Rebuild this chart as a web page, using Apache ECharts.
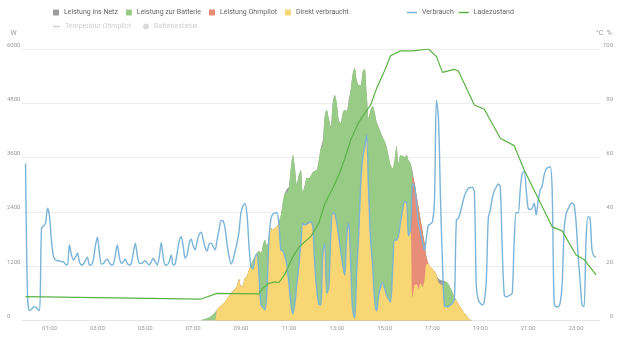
<!DOCTYPE html>
<html><head><meta charset="utf-8">
<script src="https://cdn.jsdelivr.net/npm/echarts@6/dist/echarts.min.js"></script>
<style>html,body{margin:0;padding:0;background:#fff}#c{width:620px;height:337px}</style>
</head><body><div id="c"></div>
<script>
const timeLabels = ['01:00','03:00','05:00','07:00','09:00','11:00','13:00','15:00','17:00','19:00','21:00','23:00'];
const leftTicks = [0,1200,2400,3600,4800,6000];
const rightTicks = [0,20,40,60,80,100];

const verbrauchTimes = [
'00:00','00:05','00:10','00:15','00:20','00:25','00:30','00:35','00:40','00:45','00:50','00:55',
'01:00','01:05','01:10','01:15','01:20','01:25','01:30','01:35','01:40','01:45','01:50','01:55',
'02:00','02:05','02:10','02:15','02:20','02:25','02:30','02:35','02:40','02:45','02:50','02:55',
'03:00','03:05','03:10','03:15','03:20','03:25','03:30','03:35','03:40','03:45','03:50','03:55',
'04:00','04:05','04:10','04:15','04:20','04:25','04:30','04:35','04:40','04:45','04:50','04:55',
'05:00','05:05','05:10','05:15','05:20','05:25','05:30','05:35','05:40','05:45','05:50','05:55',
'06:00','06:05','06:10','06:15','06:20','06:25','06:30','06:35','06:40','06:45','06:50','06:55',
'07:00','07:05','07:10','07:15','07:20','07:25','07:30','07:35','07:40','07:45','07:50','07:55',
'08:00','08:05','08:10','08:15','08:20','08:25','08:30','08:35','08:40','08:45','08:50','08:55',
'09:00','09:05','09:10','09:15','09:20','09:25','09:30','09:35','09:40','09:45','09:50','09:55',
'10:00','10:05','10:10','10:15','10:20','10:25','10:30','10:35','10:40','10:45','10:50','10:55',
'11:00','11:05','11:10','11:15','11:20','11:25','11:30','11:35','11:40','11:45','11:50','11:55',
'12:00','12:05','12:10','12:15','12:20','12:25','12:30','12:35','12:40','12:45','12:50','12:55',
'13:00','13:05','13:10','13:15','13:20','13:25','13:30','13:35','13:40','13:45','13:50','13:55',
'14:00','14:05','14:10','14:15','14:20','14:25','14:30','14:35','14:40','14:45','14:50','14:55',
'15:00','15:05','15:10','15:15','15:20','15:25','15:30','15:35','15:40','15:45','15:50','15:55',
'16:00','16:05','16:10','16:15','16:20','16:25','16:30','16:35','16:40','16:45','16:50','16:55',
'17:00','17:05','17:10','17:15','17:20','17:25','17:30','17:35','17:40','17:45','17:50','17:55',
'18:00','18:05','18:10','18:15','18:20','18:25','18:30','18:35','18:40','18:45','18:50','18:55',
'19:00','19:05','19:10','19:15','19:20','19:25','19:30','19:35','19:40','19:45','19:50','19:55',
'20:00','20:05','20:10','20:15','20:20','20:25','20:30','20:35','20:40','20:45','20:50','20:55',
'21:00','21:05','21:10','21:15','21:20','21:25','21:30','21:35','21:40','21:45','21:50','21:55',
'22:00','22:05','22:10','22:15','22:20','22:25','22:30','22:35','22:40','22:45','22:50','22:55',
'23:00','23:05','23:10','23:15','23:20','23:25','23:30','23:35','23:40','23:45','23:50'];

const verbrauch = [
3470,500,220,250,300,300,250,220,2050,2090,2150,2480,
2300,1750,1410,1340,1320,1320,1300,1300,1240,1230,1669,1450,
1337,1400,1485,1300,1227,1250,1330,1397,1227,1230,1350,1650,
1839,1500,1249,1260,1320,1352,1280,1227,1240,1450,1669,1400,
1264,1300,1352,1260,1227,1260,1500,1706,1450,1264,1260,1290,
1322,1270,1227,1300,1375,1300,1227,1400,1719,1400,1227,1230,
1300,1448,1227,1250,1500,1750,1852,1650,1375,1450,1700,1795,
1650,1560,1750,1900,1950,1800,1620,1535,1690,1710,1635,1560,
1780,2007,2210,2200,2043,1690,1425,1250,1337,1525,1713,1962,
2387,2530,2585,2350,1670,1180,1140,1400,1470,1006,343,290,
235,674,1779,2243,2354,2376,2382,2148,1558,1535,1425,1215,
829,387,144,387,807,1204,1713,2148,2111,2133,2155,2177,
2088,1227,674,365,343,1500,1700,601,718,1890,2369,2354,
2155,1845,1536,1227,1006,1890,2155,1227,232,55,1116,1890,
2973,3585,3812,4100,2818,1779,1227,453,210,541,740,829,
718,564,475,409,1116,1779,1779,1890,2177,2442,2619,2619,
1867,2022,3030,2957,2575,2155,1934,1735,1558,1845,2110,2133,
2177,2620,4870,4470,2730,1293,320,305,309,343,376,475,
2221,2259,2398,2575,2751,2851,2922,2935,2944,2840,750,453,
380,343,431,895,2265,2442,2707,2862,2950,3017,2950,1558,
564,526,541,564,601,1779,2387,2376,2884,3253,3288,2884,
2475,2453,2486,2590,2332,2641,2884,2972,3215,3348,3381,3399,
2900,387,305,305,387,785,2000,2354,2464,2553,2597,2553,
2177,1448,895,343,305,1779,2294,2265,1558,1425,1410];

const pvTimes = [
'07:20','07:25','07:30','07:35','07:40','07:45','07:50','07:55',
'08:00','08:05','08:10','08:15','08:20','08:25','08:30','08:35','08:40','08:45','08:50','08:55',
'09:00','09:05','09:10','09:15','09:20','09:25','09:30','09:35','09:40','09:45','09:50','09:55',
'10:00','10:05','10:10','10:15','10:20','10:25','10:30','10:35','10:40','10:45','10:50','10:55',
'11:00','11:05','11:10','11:15','11:20','11:25','11:30','11:35','11:40','11:45','11:50','11:55',
'12:00','12:05','12:10','12:15','12:20','12:25','12:30','12:35','12:40','12:45','12:50','12:55',
'13:00','13:05','13:10','13:15','13:20','13:25','13:30','13:35','13:40','13:45','13:50','13:55',
'14:00','14:05','14:10','14:15','14:20','14:25','14:30','14:35','14:40','14:45','14:50','14:55',
'15:00','15:05','15:10','15:15','15:20','15:25','15:30','15:35','15:40','15:45','15:50','15:55',
'16:00','16:05','16:10','16:15','16:20','16:25','16:30','16:35','16:40','16:45','16:50','16:55',
'17:00','17:05','17:10','17:15','17:20','17:25','17:30','17:35','17:40','17:45','17:50','17:55',
'18:00','18:05','18:10','18:15','18:20','18:25','18:30','18:35','18:40','18:45'];

const direktVerbraucht = [
0,0,0,0,0,0,0,0,
240,290,330,370,415,475,535,590,650,695,760,910,
750,785,940,985,1116,1180,1140,1400,1470,1006,343,290,
235,674,1779,2044,2000,2044,2073,2148,1558,1535,1425,1215,
829,387,144,387,807,1204,1713,2148,2111,2133,2155,2177,
2088,1227,674,365,343,1500,1700,601,718,1890,2369,2354,
2155,1845,1536,1227,1006,1890,2155,1227,232,55,1116,1890,
2973,3585,3812,4100,2818,1779,1227,453,210,541,740,829,
718,564,475,409,1116,1779,1779,1890,2177,2442,2619,2619,
1867,2022,520,774,807,696,829,740,895,1249,1249,1182,
1138,1083,1006,838,795,784,320,305,309,343,376,475,
442,365,298,232,155,110,55,10,0,0];

const leistungOhmpilot = [
0,0,0,0,0,0,0,0,
0,0,0,0,0,0,0,0,0,0,0,0,
0,0,0,0,0,0,0,0,0,0,0,0,
0,0,0,0,0,0,0,0,0,0,0,0,
0,0,0,0,0,0,0,0,0,0,0,0,
0,0,0,0,0,0,0,0,0,0,0,0,
0,0,0,0,0,0,0,0,0,0,0,0,
0,0,0,0,0,0,0,0,0,0,0,0,
0,0,0,0,0,0,0,0,0,0,0,0,
0,0,2680,2276,1967,1812,1414,1238,818,154,0,0,
0,0,0,0,0,0,0,0,0,0,0,0,
0,0,0,0,0,0,0,0,0,0];

const leistungBatterie = [
0,20,35,50,65,95,130,180,
0,0,0,0,0,0,0,0,0,0,0,0,
0,0,0,0,0,35,197,0,20,529,1147,1379,
1544,972,66,0,0,0,0,29,773,1084,1393,1611,
2121,2983,3514,3005,2203,2011,1613,692,884,1017,995,1018,
1195,2079,2652,3175,3469,2370,2820,4051,3757,2393,2431,2630,
2652,2585,2829,3359,3646,2740,2638,3873,5218,5525,4199,3315,
2227,1915,1748,950,1657,2873,3513,4155,4177,3735,3426,3227,
3250,3271,3161,3028,2248,1761,2076,1590,1481,1194,995,1039,
1673,1452,0,0,0,0,0,0,0,0,0,0,
0,0,0,0,0,0,513,546,498,375,254,44,
0,0,0,0,0,0,0,0,0,0];

const leistungNetz = [
0,0,0,0,0,0,0,0,
0,0,0,0,0,0,0,0,0,0,0,0,
0,0,0,0,0,0,0,0,0,0,0,0,
0,0,0,0,0,0,0,0,0,0,0,80,
0,0,0,0,0,0,0,0,0,0,0,0,
0,0,0,0,0,120,0,0,0,0,0,0,
0,0,0,0,0,0,80,0,0,0,0,0,
0,0,0,0,0,0,0,0,0,0,0,0,
0,0,0,0,0,0,0,0,0,0,0,0,
0,0,100,0,0,0,0,0,0,0,0,0,
0,0,0,90,100,100,40,0,0,0,0,0,
0,0,0,0,0,0,0,0,0,0];

const socTimes = ['00:00','07:20','08:00','09:45','09:55','10:10','10:25','10:35','10:50','11:10','11:25','11:40','11:55','12:15','12:30','12:50','13:05','13:20','13:35','13:55','14:10','14:25','14:40','15:00','15:15','15:40','16:10','16:15','16:50','17:10','17:25','17:55','18:05','18:45','19:10','19:50','20:25','20:50','22:00','22:25','23:00','23:20','23:50'];
const ladezustand = [8.8,7.9,10.0,9.8,12.0,13.7,14.2,14.0,17.0,23.5,27.0,29.0,30.9,35.8,43.0,48.7,53.5,59.5,66.5,73.0,76.3,79.4,85.5,92.0,97.5,99.3,99.3,100,100,97.2,91.4,92.5,91.9,79.4,77.8,67.1,64.4,55.4,34.5,33.0,24.1,22.5,16.8];

function toH(t){ const p = t.split(':'); return +p[0] + (+p[1]) / 60; }
function pairs(ts, vs){ return ts.map((t, i) => [toH(t), vs[i]]); }

// Stacked (cumulative) tops of the PV areas, built from the per-series arrays above.
const stackOrder = [direktVerbraucht, leistungOhmpilot, leistungBatterie, leistungNetz];
const stackTops = [];
stackOrder.forEach((arr, s) => {
  stackTops.push(arr.map((v, i) => v + (s > 0 ? stackTops[s - 1][i] : 0)));
});

const C = {
  netz: '#9e9e9e', batt: '#98cb85', ohm: '#e88d77', direkt: '#f8d673',
  verbrauch: '#7ab4d8', soc: '#5bb346'
};
const FONT = 'Roboto, sans-serif';
const chart = echarts.init(document.getElementById('c'), null, {renderer: 'canvas'});

function area(name, data, color){
  return { name, type: 'line', data, symbol: 'none', smooth: 0.3,
    lineStyle: { width: 0 }, itemStyle: { color }, areaStyle: { color, opacity: 1 }, z: 2, silent: true };
}

const labelH = timeLabels.map(toH);
const legendText = { fontSize: 7, color: '#666', fontFamily: FONT, width: 70 };
chart.setOption({
  animation: false,
  backgroundColor: '#fff',
  textStyle: { fontFamily: FONT },
  grid: { left: 22, right: 20, top: 49, bottom: 16.5 },
  legend: [
    { data: [{name:'Leistung ins Netz', icon:'rect'}, {name:'Leistung zur Batterie', icon:'rect'}, {name:'Leistung Ohmpilot', icon:'rect'}, {name:'Direkt verbraucht', icon:'rect'}],
      left: 53, top: 9, padding: 0, itemWidth: 6, itemHeight: 6, itemGap: 8, textStyle: legendText },
    { data: [{name:'Verbrauch', icon:'rect'}, {name:'Ladezustand', icon:'rect'}],
      left: 407, top: 9, padding: 0, itemWidth: 10, itemHeight: 1.5, itemGap: 5, textStyle: legendText },
    { data: [{name:'Temperatur Ohmpilot', icon:'rect'}], selected: {'Temperatur Ohmpilot': false},
      left: 53, top: 23, padding: 0, itemWidth: 7, itemHeight: 1.5, itemGap: 7, textStyle: legendText, inactiveColor: '#d0d0d0' },
    { data: [{name:'Batteriestatus', icon:'circle'}], selected: {'Batteriestatus': false},
      left: 143, top: 23, padding: 0, itemWidth: 6, itemHeight: 6, itemGap: 7, textStyle: legendText, inactiveColor: '#d0d0d0' }
  ],
  xAxis: {
    type: 'value', min: -0.15, max: 24,
    axisLine: { show: true, lineStyle: { color: '#e6e6e6' } },
    axisTick: { show: false }, splitLine: { show: false },
    axisLabel: { customValues: labelH, color: '#9a9a9a', fontSize: 6, margin: 5,
      formatter: v => { const i = labelH.findIndex(h => Math.abs(h - v) < 1e-6); return i >= 0 ? timeLabels[i] : ''; } }
  },
  yAxis: [
    { type: 'value', min: 0, max: 6000, interval: 1200, name: 'W', nameGap: 12,
      nameTextStyle: { color: '#9a9a9a', fontSize: 7, align: 'right', padding: [0, 9, 0, 0] },
      axisLine: { show: false }, axisTick: { show: false },
      splitLine: { lineStyle: { color: '#eeeeee', width: 1 } },
      axisLabel: { align: 'left', margin: 15, verticalAlign: 'bottom', color: '#9a9a9a', fontSize: 6, padding: [0,0,1,0],
        formatter: v => leftTicks.includes(v) ? String(v) : '' } },
    { type: 'value', min: 0, max: 100, interval: 20, name: '°C  %', nameGap: 12, position: 'right',
      nameTextStyle: { color: '#9a9a9a', fontSize: 7, align: 'center', padding: [0, 0, 0, 8] },
      axisLine: { show: false }, axisTick: { show: false }, splitLine: { show: false },
      axisLabel: { align: 'right', margin: 13, verticalAlign: 'bottom', color: '#9a9a9a', fontSize: 6, padding: [0,0,1,0],
        formatter: v => rightTicks.includes(v) ? String(v) : '' } }
  ],
  series: [
    area('Leistung ins Netz', pairs(pvTimes, stackTops[3]), C.netz),
    area('Leistung zur Batterie', pairs(pvTimes, stackTops[2]), C.batt),
    area('Leistung Ohmpilot', pairs(pvTimes, stackTops[1]), C.ohm),
    area('Direkt verbraucht', pairs(pvTimes, stackTops[0]), C.direkt),
    { name: 'Verbrauch', type: 'line', data: pairs(verbrauchTimes, verbrauch), symbol: 'none', smooth: 0.3,
      lineStyle: { width: 1.4, color: C.verbrauch }, itemStyle: { color: C.verbrauch }, z: 5, silent: true },
    { name: 'Ladezustand', type: 'line', yAxisIndex: 1, data: pairs(socTimes, ladezustand), symbol: 'none',
      lineStyle: { width: 1.2, color: C.soc }, itemStyle: { color: C.soc }, z: 6, silent: true },
    { name: 'Temperatur Ohmpilot', type: 'line', yAxisIndex: 1, data: [], symbol: 'none',
      lineStyle: { width: 1, color: '#bbb' }, itemStyle: { color: '#bbb' } },
    { name: 'Batteriestatus', type: 'scatter', yAxisIndex: 1, data: [], itemStyle: { color: '#aaa' } }
  ]
});
</script></body></html>
